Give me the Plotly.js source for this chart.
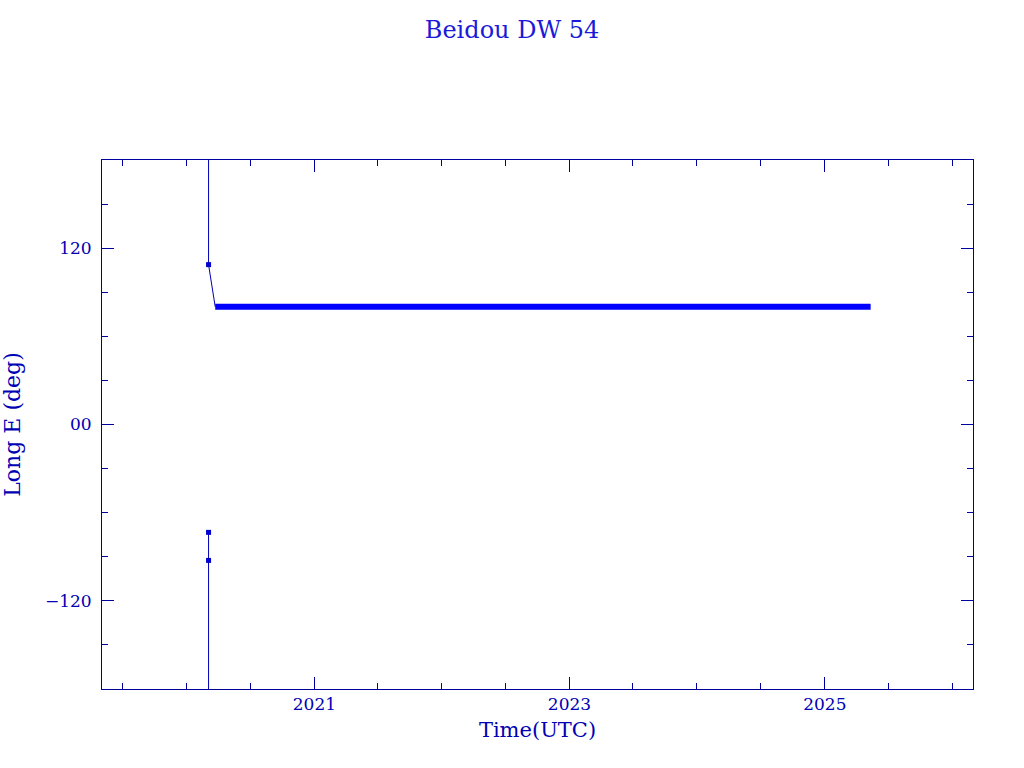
<!DOCTYPE html>
<html>
<head>
<meta charset="utf-8">
<script src="https://cdn.plot.ly/plotly-3.0.1.min.js"></script>
<style>html,body{margin:0;padding:0;background:#fff;}#chart{width:1024px;height:768px;}</style>
</head>
<body>
<div id="chart"></div>
<script>
// Data
const wrapDates = ['2020-03-04', '2020-03-04', '2020-03-04', null, '2020-03-04', '2020-03-04', '2020-03-23'];
const wrapLon   = [-73.4, -92.5, -180, null, 180, 108.8, 80.2];
const pointDates = ['2020-03-04', '2020-03-04', '2020-03-04'];
const pointLon   = [108.8, -73.4, -92.5];
const stationDates = ['2020-03-23', '2025-05-12'];
const stationLon   = [80.2, 80.2];
const yTickVals  = [120, 0, -120];
const yTickText  = ['120', '00', '\u2212120'];
const xTickVals  = ['2021-01-01', '2023-01-01', '2025-01-01'];
const xTickText  = ['2021', '2023', '2025'];

const axisColor = '#00009c';
const textColor = '#0000b4';
const fontFam = '"DejaVu Serif", serif';

const traces = [
  {x: wrapDates, y: wrapLon, mode: 'lines', line: {color: '#0000b0', width: 1}, connectgaps: false, hoverinfo: 'skip'},
  {x: pointDates, y: pointLon, mode: 'markers', marker: {symbol: 'square', size: 5, color: '#0000d0'}},
  {x: stationDates, y: stationLon, mode: 'lines', line: {color: '#0000ff', width: 6}}
];

const layout = {
  width: 1024, height: 768,
  margin: {l: 102, r: 51, t: 160, b: 79},
  paper_bgcolor: '#ffffff', plot_bgcolor: '#ffffff',
  showlegend: false,
  title: {text: 'Beidou DW 54', font: {family: fontFam, size: 24, color: '#1a1ad8'}, x: 0.5, xanchor: 'center', y: 0.961, yref: 'container', yanchor: 'middle'},
  xaxis: {
    type: 'date', range: ['2019-05-04', '2026-03-01'],
    tickmode: 'array', tickvals: xTickVals, ticktext: xTickText,
    ticks: 'inside', ticklen: 12, tickwidth: 1, tickcolor: axisColor,
    minor: {ticks: 'inside', ticklen: 6, dtick: 'M6', tick0: '2019-01-01', tickcolor: axisColor, showgrid: false},
    showline: true, linecolor: axisColor, linewidth: 1, mirror: 'allticks',
    showgrid: false, zeroline: false,
    tickfont: {family: fontFam, size: 17, color: textColor},
    title: {text: 'Time(UTC)', font: {family: fontFam, size: 21, color: textColor}, standoff: 8}
  },
  yaxis: {
    range: [-180, 180],
    tickmode: 'array', tickvals: yTickVals, ticktext: yTickText,
    ticks: 'inside', ticklen: 12, tickwidth: 1, tickcolor: axisColor,
    ticklabelstandoff: 6,
    minor: {ticks: 'inside', ticklen: 6, tickvals: [150, 90, 60, 30, -30, -60, -90, -150], tickcolor: axisColor, showgrid: false},
    showline: true, linecolor: axisColor, linewidth: 1, mirror: 'allticks',
    showgrid: false, zeroline: false,
    tickfont: {family: fontFam, size: 17, color: textColor},
    title: {text: 'Long E (deg)', font: {family: fontFam, size: 22, color: textColor}, standoff: 18}
  }
};

Plotly.newPlot('chart', traces, layout, {displayModeBar: false, staticPlot: true});
</script>
</body>
</html>
